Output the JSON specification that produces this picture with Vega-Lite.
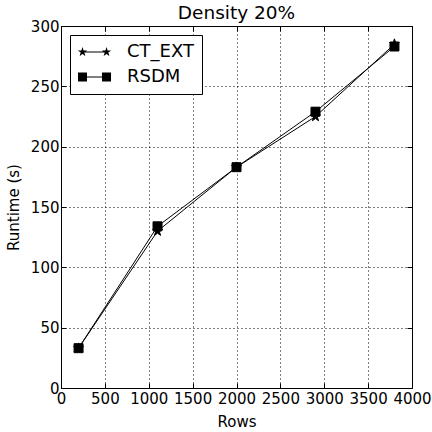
{
  "$schema": "https://vega.github.io/schema/vega-lite/v6.json",
  "width": 351,
  "height": 362,
  "autosize": "none",
  "padding": {"left": 61, "top": 26, "right": 20, "bottom": 44},
  "title": {"text": "Density 20%", "fontSize": 18.5, "font": "DejaVu Sans", "fontWeight": "normal", "color": "black", "offset": -3},
  "config": {
    "view": {"stroke": "black", "strokeWidth": 1},
    "font": "DejaVu Sans",
    "axis": {
      "domain": false,
      "tickColor": "black",
      "tickSize": -5,
      "labelColor": "black",
      "labelFontSize": 15,
      "labelFont": "DejaVu Sans",
      "labelOverlap": false,
      "labelBound": false,
      "labelFlush": false,
      "titleColor": "black",
      "titleFontSize": 15,
      "titleFont": "DejaVu Sans",
      "titleFontWeight": "normal",
      "gridColor": "black",
      "gridOpacity": 1,
      "gridDash": [1, 3],
      "gridWidth": 1,
      "format": "d"
    }
  },
  "data": {
    "values": [
      {"rows": 200, "runtime": 33, "series": "CT_EXT"},
      {"rows": 1100, "runtime": 130, "series": "CT_EXT"},
      {"rows": 2000, "runtime": 183, "series": "CT_EXT"},
      {"rows": 2900, "runtime": 225, "series": "CT_EXT"},
      {"rows": 3800, "runtime": 285, "series": "CT_EXT"},
      {"rows": 200, "runtime": 33, "series": "RSDM"},
      {"rows": 1100, "runtime": 134, "series": "RSDM"},
      {"rows": 2000, "runtime": 183, "series": "RSDM"},
      {"rows": 2900, "runtime": 229, "series": "RSDM"},
      {"rows": 3800, "runtime": 283, "series": "RSDM"}
    ]
  },
  "layer": [
    {
      "mark": {"type": "line", "color": "black", "strokeWidth": 1},
      "encoding": {
        "x": {"field": "rows", "type": "quantitative", "scale": {"domain": [0, 4000], "nice": false},
              "axis": {"title": "Rows", "values": [0, 500, 1000, 1500, 2000, 2500, 3000, 3500, 4000], "grid": true, "labelPadding": 8, "titlePadding": 8}},
        "y": {"field": "runtime", "type": "quantitative", "scale": {"domain": [0, 300], "nice": false},
              "axis": {"title": "Runtime (s)", "values": [0, 50, 100, 150, 200, 250, 300], "grid": true, "labelPadding": 7, "titlePadding": 9}},
        "detail": {"field": "series"}
      }
    },
    {
      "mark": {"type": "point", "filled": true, "color": "black", "opacity": 1, "strokeWidth": 1, "stroke": "black"},
      "encoding": {
        "x": {"field": "rows", "type": "quantitative",
              "axis": {"title": null, "labels": false, "grid": false, "values": [0, 500, 1000, 1500, 2000, 2500, 3000, 3500, 4000]}},
        "y": {"field": "runtime", "type": "quantitative",
              "axis": {"title": null, "labels": false, "grid": false, "values": [0, 50, 100, 150, 200, 250, 300]}},
        "shape": {
          "field": "series", "type": "nominal",
          "scale": {"domain": ["CT_EXT", "RSDM"], "range": ["M0,-1L0.225,-0.309L0.951,-0.309L0.363,0.118L0.588,0.809L0,0.382L-0.588,0.809L-0.363,0.118L-0.951,-0.309L-0.225,-0.309Z", "square"]},
          "legend": null
        },
        "size": {"condition": {"test": "datum.series === 'CT_EXT'", "value": 110}, "value": 81}
      }
    },
    {
      "transform": [{"filter": "datum.rows < 0"}],
      "mark": {"type": "point", "filled": true, "color": "black", "strokeWidth": 0},
      "encoding": {
        "x": {"field": "rows", "type": "quantitative", "axis": null},
        "y": {"field": "runtime", "type": "quantitative", "axis": null},
        "shape": {
          "field": "series", "type": "nominal",
          "scale": {"domain": ["CT_EXT", "RSDM"], "range": [
            "M-0.5,-0.055H2.17V0.055H-0.5ZM-0.5,-0.55L-0.376,-0.17L0.023,-0.17L-0.3,0.065L-0.177,0.445L-0.5,0.21L-0.823,0.445L-0.7,0.065L-1.023,-0.17L-0.624,-0.17ZM2.17,-0.55L2.294,-0.17L2.693,-0.17L2.37,0.065L2.493,0.445L2.17,0.21L1.847,0.445L1.97,0.065L1.647,-0.17L2.046,-0.17Z",
            "M-0.5,-0.055H2.17V0.055H-0.5ZM-1,-0.5H0V0.5H-1ZM1.67,-0.5H2.67V0.5H1.67Z"]},
          "legend": {
            "title": null,
            "orient": "none",
            "legendX": 9,
            "legendY": 9,
            "strokeColor": "black",
            "fillColor": "white",
            "padding": 8,
            "labelFontSize": 18,
            "labelFont": "DejaVu Sans",
            "labelColor": "black",
            "labelOffset": 31,
            "rowPadding": 7,
            "symbolSize": 324,
            "symbolFillColor": "black",
            "symbolStrokeColor": "black",
            "symbolStrokeWidth": 0,
            "symbolOpacity": 1
          }
        }
      }
    }
  ],
  "resolve": {"axis": {"x": "independent", "y": "independent"}, "scale": {"shape": "independent"}}
}
